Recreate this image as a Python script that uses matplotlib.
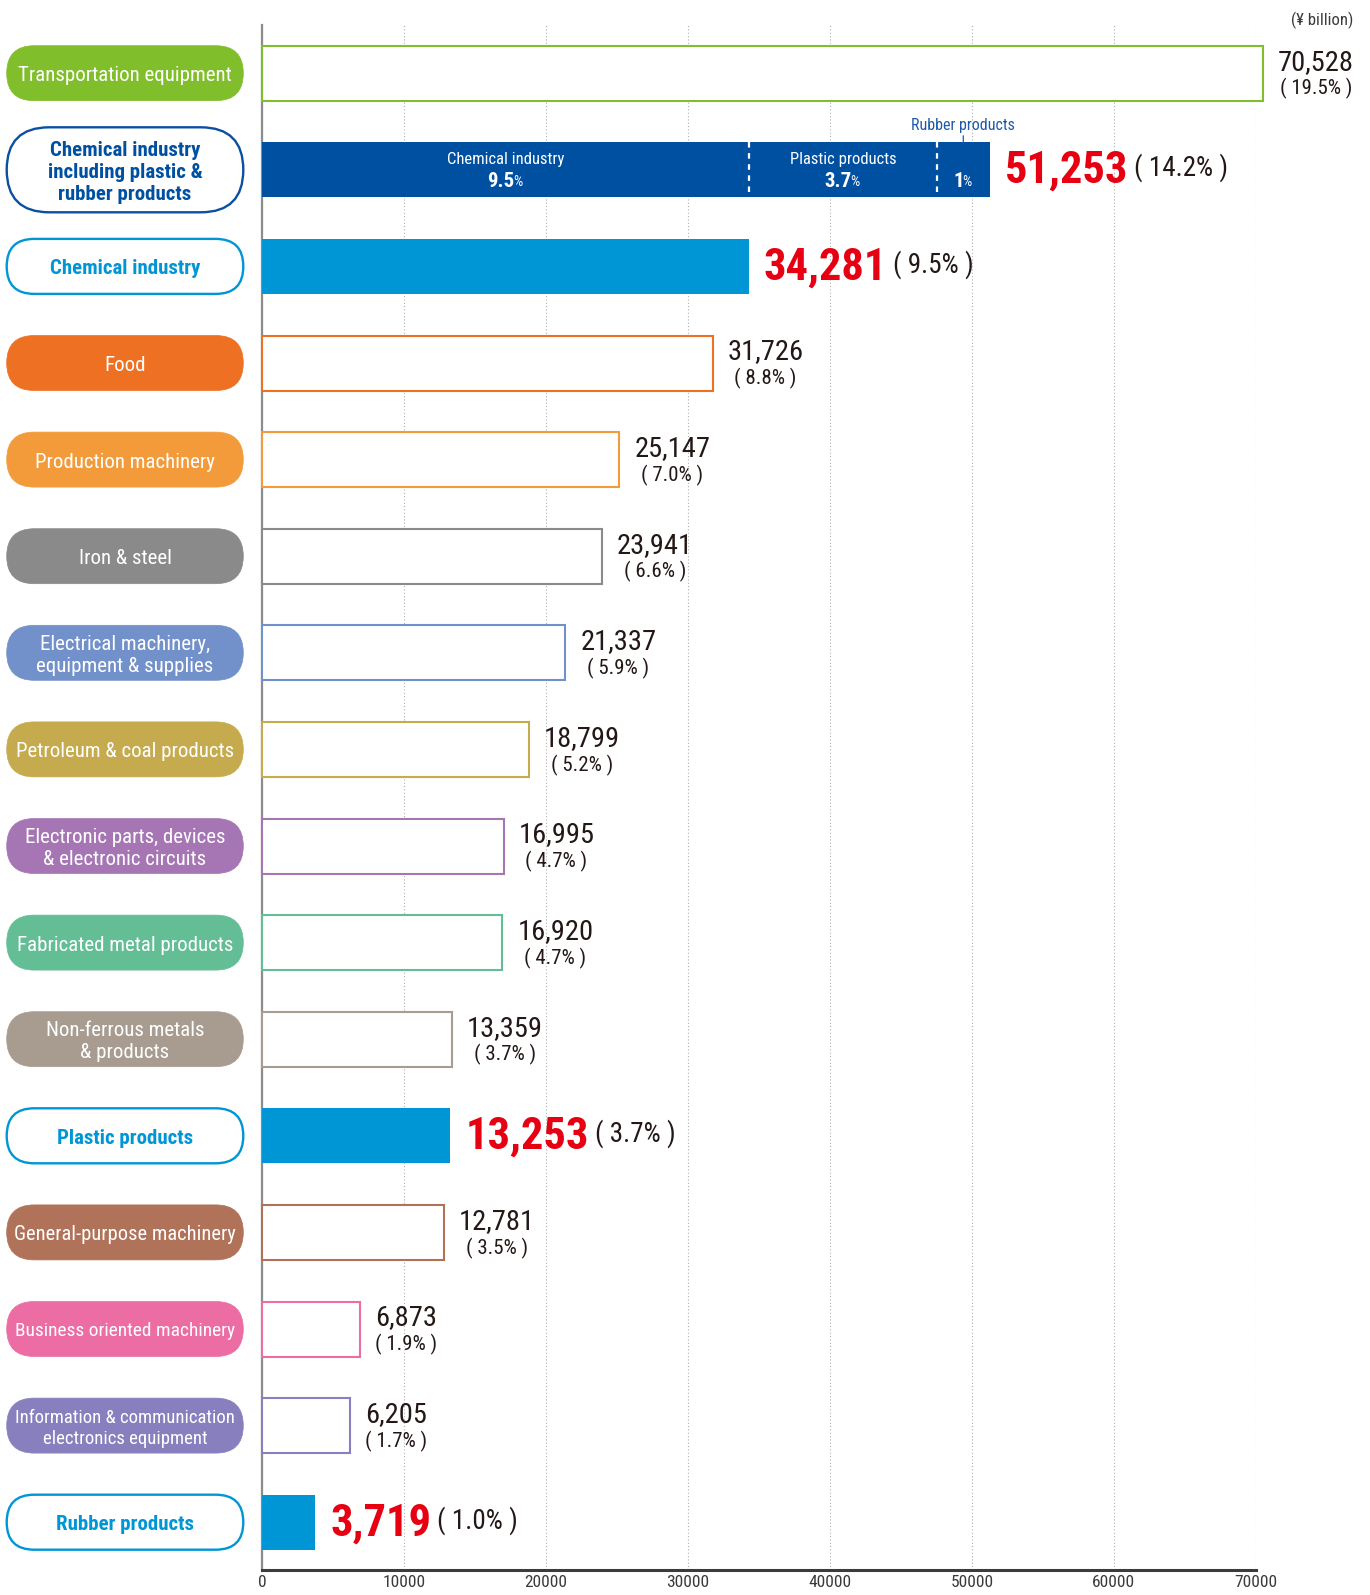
import matplotlib
matplotlib.use("Agg")
import matplotlib.pyplot as plt
from matplotlib import font_manager
from matplotlib.patches import FancyBboxPatch
import numpy as np

# shipments by industry, ¥ billion
labels = ["Transportation equipment",
          "Chemical industry\nincluding plastic &\nrubber products",
          "Chemical industry", "Food", "Production machinery", "Iron & steel",
          "Electrical machinery,\nequipment & supplies",
          "Petroleum & coal products",
          "Electronic parts, devices\n& electronic circuits",
          "Fabricated metal products",
          "Non-ferrous metals\n& products",
          "Plastic products", "General-purpose machinery",
          "Business oriented machinery",
          "Information & communication\nelectronics equipment",
          "Rubber products"]
values = [70528, 51253, 34281, 31726, 25147, 23941, 21337, 18799,
          16995, 16920, 13359, 13253, 12781, 6873, 6205, 3719]
shares = [19.5, 14.2, 9.5, 8.8, 7.0, 6.6, 5.9, 5.2,
          4.7, 4.7, 3.7, 3.7, 3.5, 1.9, 1.7, 1.0]
highlight = [False, True, True, False, False, False, False, False,
             False, False, False, True, False, False, False, True]
colors = ["#80BE2C", "#0A4FA0", "#0096D6", "#EE7023", "#F39B3A", "#8A8A8A",
          "#7290CA", "#C6AB4E", "#A676B4", "#63BE96", "#A89B90", "#0096D6",
          "#B07258", "#EC6DA4", "#8880BE", "#0096D6"]
label_sizes = [15, 15, 15, 15, 15, 15, 15, 15,
               15, 15, 15, 15, 15, 14, 13.5, 15]

# breakdown of the combined chemical bar
chem_parts = [34281, 13253, 3719]
chem_part_names = ["Chemical industry", "Plastic products", "Rubber products"]
chem_part_shares = ["9.5", "3.7", "1"]

xticks = np.arange(0, 70001, 10000)

RED = "#E60012"
TXT = "#231815"
DARK_BLUE = "#0050A2"


def pick_font(cands):
    for name in cands:
        try:
            font_manager.findfont(font_manager.FontProperties(family=name),
                                  fallback_to_default=False)
            return name
        except ValueError:
            pass
    return "DejaVu Sans"


NARROW = pick_font(["Liberation Sans Narrow", "DejaVu Sans Condensed",
                    "Roboto Condensed", "Liberation Sans"])
plt.rcParams["font.family"] = [NARROW, "DejaVu Sans"]

W, H = 1370, 1595
X0, X70 = 262.4, 1255.7          # pixel x of 0 and 70000
ROW0, STEP = 73.2, 96.6          # pixel y of first row centre, row pitch
TOP, BOTTOM = 25.4, 1570.0
BAR_H = 55 / STEP
PT = 0.72                        # points per pixel at dpi 100

fig = plt.figure(figsize=(W / 100, H / 100), dpi=100)

# overlay in pixel units for the pill labels
ov = fig.add_axes([0, 0, 1, 1])
ov.set_xlim(0, W)
ov.set_ylim(H, 0)
ov.axis("off")

ax = fig.add_axes([X0 / W, (H - BOTTOM) / H, (X70 - X0) / W, (BOTTOM - TOP) / H])
ax.patch.set_alpha(0)
rows = np.arange(len(values))
ax.set_xlim(0, 70000)
ax.set_ylim((BOTTOM - ROW0) / STEP, -(ROW0 - TOP) / STEP)

# bars
for i, v in enumerate(values):
    if i == 1:
        continue
    if highlight[i]:
        ax.barh(i, v, height=BAR_H, color=colors[i], linewidth=0, zorder=3,
                clip_on=False)
    else:
        ax.barh(i, v, height=BAR_H, color="white", edgecolor=colors[i],
                linewidth=1.5, zorder=3, clip_on=False)

lefts = np.concatenate([[0], np.cumsum(chem_parts)[:-1]])
ax.barh(np.ones(len(chem_parts)), chem_parts, left=lefts, height=BAR_H,
        color=DARK_BLUE, linewidth=0, zorder=3)
ax.vlines(lefts[1:], 1 - BAR_H / 2, 1 + BAR_H / 2, colors="white",
          linestyles=(0, (2.5, 2.5)), linewidth=1.6, zorder=4)

for k, (left, w) in enumerate(zip(lefts, chem_parts)):
    c = left + w / 2
    if k < 2:
        ax.annotate(chem_part_names[k], xy=(c, 1), xytext=(0, 10.8 * PT),
                    textcoords="offset points", ha="center", va="center",
                    fontsize=12, color="white", zorder=5)
    num = ax.annotate(chem_part_shares[k], xy=(c, 1),
                      xytext=(-5 * PT, -16.9 * PT), textcoords="offset points",
                      ha="center", va="baseline", fontsize=15,
                      fontweight="bold", color="white", zorder=5)
    ax.annotate("%", xy=(1, 0), xycoords=num, xytext=(-0.8, 1.0),
                textcoords="offset points", ha="left", va="bottom",
                fontsize=10.5, color="white", zorder=5)
    if k == 2:
        ax.annotate(chem_part_names[k], xy=(c, 1 - BAR_H / 2),
                    xytext=(0, 16.8 * PT), textcoords="offset points",
                    ha="center", va="center", fontsize=11.5, color="#1D5BA8",
                    arrowprops=dict(arrowstyle="-", color="#1D5BA8", lw=0.9,
                                    shrinkA=0, shrinkB=0))

# value labels
for i, (v, s) in enumerate(zip(values, shares)):
    if highlight[i]:
        t = ax.annotate(f"{v:,}", xy=(v, i), xytext=(15 * PT, -13.3 * PT),
                        textcoords="offset points", ha="left", va="baseline",
                        fontsize=32, fontweight="bold", color=RED,
                        annotation_clip=False, zorder=5)
        ax.annotate(f"( {s:.1f}% )", xy=(1, 0), xycoords=t,
                    xytext=(6 * PT, 16 * PT), textcoords="offset points",
                    ha="left", va="baseline", fontsize=19.5, color=TXT,
                    annotation_clip=False, zorder=5)
    else:
        t = ax.annotate(f"{v:,}", xy=(v, i), xytext=(15 * PT, 3.5 * PT),
                        textcoords="offset points", ha="left", va="baseline",
                        fontsize=20.5, color=TXT, annotation_clip=False,
                        zorder=5)
        ax.annotate(f"( {s:.1f}% )", xy=(0.5, 0), xycoords=t,
                    xytext=(0, -19 * PT), textcoords="offset points",
                    ha="center", va="baseline", fontsize=15, color=TXT,
                    annotation_clip=False, zorder=5)

# axes styling
ax.set_xticks(xticks)
ax.set_xticklabels([str(x) for x in xticks])
ax.set_yticks([])
ax.tick_params(axis="x", length=0, pad=3.5, labelsize=12.5, labelcolor="#3a3a3a")
ax.grid(axis="x", linestyle=(0, (1, 2)), color="#b0b0b0", linewidth=0.8)
ax.set_axisbelow(True)
for side in ["top", "right"]:
    ax.spines[side].set_visible(False)
ax.spines["left"].set_color("#8c8c8c")
ax.spines["left"].set_linewidth(1.6)
ax.spines["bottom"].set_color("#3c3c3c")
ax.spines["bottom"].set_linewidth(2.2)

# pill labels
renderer = fig.canvas.get_renderer()
for i, lab in enumerate(labels):
    yc = ROW0 + STEP * i
    h = 85 if i == 1 else 55
    x, w = 6.7, 236.6
    if highlight[i]:
        fc, ec, tc, fw = "white", colors[i], colors[i], "bold"
        if i == 1:
            tc = DARK_BLUE
    else:
        fc, ec, tc, fw = colors[i], colors[i], "white", "normal"
    pill = FancyBboxPatch((x, yc - h / 2), w, h,
                          boxstyle=f"round,pad=0,rounding_size={h / 2}",
                          fc=fc, ec=ec, lw=1.7 if highlight[i] else 0.5)
    ov.add_patch(pill)
    t = ov.text(x + w / 2, yc + 2.5, lab, ha="center", va="center",
                fontsize=label_sizes[i], color=tc, fontweight=fw,
                multialignment="center")
    bb = t.get_window_extent(renderer)
    if bb.width > 222:
        t.set_fontsize(label_sizes[i] * 222 / bb.width)

ov.text(1353, 20.5, "(¥ billion)", ha="right", va="center", fontsize=12,
        color="#3a3a3a")

fig.savefig("out.png", dpi=100, facecolor="white")
